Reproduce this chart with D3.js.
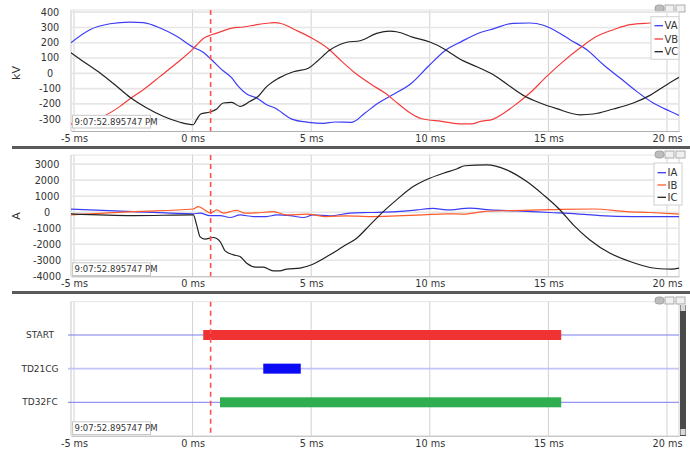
<!DOCTYPE html>
<html><head><meta charset="utf-8">
<script src="https://cdn.jsdelivr.net/npm/d3@7"></script>
<style>
body{margin:0;background:#fff}
svg{display:block}
text{font-family:"DejaVu Sans",Verdana,sans-serif;fill:#333}
</style>
</head><body>
<svg id="c" width="690" height="450"></svg>
<script>
// ---------- data ----------
const xTicks = [-5, 0, 5, 10, 15, 20];
const kvTicks = [-300, -200, -100, 0, 100, 200, 300, 400];
const ampTicks = [-4000, -3000, -2000, -1000, 0, 1000, 2000, 3000];
const timestamp = "9:07:52.895747 PM";
const markerTime = 0.76;

const VA = [[-5.13,200],[-4.33,285],[-3.48,324],[-2.64,335],[-2.08,331],[-1.37,296],[-0.67,242],[0.03,170],[0.38,144],[0.8,89],[1.23,24],[1.65,-30],[1.9,-80],[2.28,-135],[2.7,-161],[3.12,-205],[3.47,-227],[4.18,-299],[4.88,-320],[5.51,-327],[6.0,-318],[6.71,-320],[7.27,-259],[7.83,-194],[8.39,-144],[9.24,-63],[9.94,46],[10.64,148],[11.35,209],[12.1,265],[12.68,291],[13.52,327],[14.22,329],[14.79,314],[15.35,274],[15.91,220],[16.62,154],[17.32,56],[18.02,-31],[18.72,-118],[19.42,-194],[20.13,-248],[20.51,-275]];
const VB = [[-5.13,-330],[-4.5,-318],[-3.76,-281],[-3.06,-216],[-2.64,-166],[-2.08,-107],[-1.37,-20],[-0.67,67],[0.03,161],[0.24,196],[0.45,228],[0.8,252],[1.23,274],[1.65,296],[2.14,303],[2.7,318],[3.26,329],[3.47,331],[3.76,324],[4.32,285],[5.02,231],[5.72,161],[6.29,78],[6.85,2],[7.55,-74],[8.11,-129],[8.67,-199],[9.24,-266],[9.66,-297],[10.5,-314],[11.35,-331],[11.77,-331],[12.1,-316],[12.68,-299],[13.52,-216],[14.22,-129],[14.93,-20],[15.63,78],[16.33,165],[17.04,242],[17.74,285],[18.44,318],[19.28,329],[20.51,338]];
const VC = [[-5.13,135],[-4.61,78],[-3.9,2],[-3.2,-85],[-2.64,-157],[-1.93,-227],[-1.24,-281],[-0.53,-320],[0.03,-336],[0.17,-303],[0.34,-266],[0.73,-253],[1.02,-233],[1.29,-194],[1.65,-190],[2.0,-216],[2.42,-183],[2.77,-150],[3.12,-87],[3.61,-33],[4.25,10],[4.88,33],[5.23,76],[5.79,152],[6.5,203],[7.06,213],[7.76,261],[8.32,276],[8.6,272],[9.3,235],[10.0,205],[10.57,163],[10.9,130],[11.3,90],[11.7,62],[12.1,35],[12.68,-9],[13.38,-85],[14.01,-150],[14.65,-194],[15.35,-231],[16.33,-271],[16.89,-266],[17.74,-233],[18.58,-194],[19.28,-144],[19.99,-74],[20.51,-26]];

const IA = [[-5.13,190],[-2.5,40],[0.03,-100],[0.31,-60],[0.73,-210],[1.16,-210],[1.58,-330],[2.0,-170],[2.56,-270],[3.12,-270],[3.54,-170],[4.11,-210],[4.67,-330],[5.09,-170],[5.79,-230],[6.64,-60],[7.48,-20],[8.6,40],[9.44,140],[10.14,240],[10.71,140],[11.69,250],[12.53,140],[13.66,80],[15.07,-20],[16.19,-100],[17.17,-210],[18.58,-270],[20.51,-270]];
const IB = [[-5.13,-170],[-2.5,40],[0.03,200],[0.24,350],[0.45,200],[0.76,-60],[1.02,140],[1.3,-60],[1.72,90],[1.86,120],[2.21,-60],[2.7,-40],[3.4,40],[3.97,-170],[4.81,-120],[5.65,-270],[6.49,-230],[7.48,-270],[8.6,-230],[9.72,-170],[10.71,-100],[11.41,-120],[12.25,40],[13.38,100],[14.65,140],[15.49,180],[16.89,200],[18.3,40],[19.28,-20],[20.51,-120]];
const IC = [[-5.13,-106],[-2.5,-210],[0.03,-170],[0.17,-790],[0.31,-1520],[0.52,-1680],[0.87,-1580],[1.16,-1830],[1.37,-2410],[1.72,-2660],[2.0,-2770],[2.28,-3180],[2.7,-3430],[2.98,-3430],[3.4,-3660],[3.68,-3660],[3.97,-3550],[4.53,-3490],[5.02,-3280],[5.79,-2660],[6.35,-2140],[6.92,-1620],[7.48,-790],[8.04,40],[8.6,770],[9.3,1600],[10.0,2120],[10.57,2430],[11.13,2700],[11.48,2900],[12.4,2950],[13.24,2640],[14.09,1910],[14.79,1080],[15.49,140],[16.05,-790],[16.75,-1730],[17.6,-2560],[18.44,-3080],[19.28,-3450],[19.7,-3530],[20.2,-3550],[20.51,-3490]];

const voltNames = ["VA", "VB", "VC"];
const voltColors = ["#3c3cf5", "#f53c3c", "#222222"];
const currNames = ["IA", "IB", "IC"];
const currColors = ["#3c3cf5", "#ff5a28", "#222222"];

const signals = ["START", "TD21CG", "TD32FC"];
const sigStart = [0.45, 2.98, 1.155];
const sigEnd = [15.54, 4.56, 15.54];
const sigColors = ["#f03232", "#0a0af5", "#2eae50"];
const sigLineColors = ["#7a7af0", "#c4c4f7", "#7a7af0"];

// ---------- layout ----------
const svg = d3.select("#c");
const L = 71, R = 679;
const x = d3.scaleLinear().domain([-5.126, 20.506]).range([L, R]);
const panels = [
  {top: 10, bottom: 131},
  {top: 155, bottom: 276.3},
  {top: 301.7, bottom: 435.7}
];
const y1 = d3.scaleLinear().domain([-377, 414]).range([panels[0].bottom, panels[0].top]);
const y2 = d3.scaleLinear().domain([-4000, 3570]).range([panels[1].bottom, panels[1].top]);
const y3 = d3.scalePoint().domain(signals).range([335, 402.3]);

// separators
[147.5, 292.5].forEach(yy => {
  svg.append("line").attr("x1", 12).attr("x2", 690).attr("y1", yy).attr("y2", yy)
    .attr("stroke", "#5a5a5a").attr("stroke-width", 3);
});

panels.forEach((p, i) => {
  const g = svg.append("g");
  svg.append("clipPath").attr("id", "clip" + i).append("rect")
    .attr("x", L).attr("y", p.top).attr("width", R - L).attr("height", p.bottom - p.top);
  g.append("line").attr("x1", L).attr("x2", R).attr("y1", p.top).attr("y2", p.top)
    .attr("stroke", "#e4e4e4");
  g.selectAll(".vg").data(xTicks).join("line")
    .attr("x1", d => x(d)).attr("x2", d => x(d)).attr("y1", p.top).attr("y2", p.bottom)
    .attr("stroke", "#d2d2d2").attr("stroke-width", 1);
  g.append("line").attr("x1", R).attr("x2", R).attr("y1", p.top).attr("y2", p.bottom)
    .attr("stroke", "#d2d2d2");
  g.append("line").attr("x1", L).attr("x2", L).attr("y1", p.top).attr("y2", p.bottom)
    .attr("stroke", "#c8c8c8");
  const ax = g.append("g").attr("transform", `translate(0,${p.bottom})`)
    .call(d3.axisBottom(x).tickValues(xTicks).tickSize(0).tickPadding(4).tickFormat(d => d + " ms"));
  ax.select(".domain").attr("stroke", "#b0b0b0");
  ax.selectAll("text").attr("font-size", 9.7).attr("fill", "#333")
    .attr("font-family", '"DejaVu Sans",Verdana,sans-serif');
  const iy = [5, 151, 297][i];
  [655, 665, 676].forEach((ix, k) => {
    g.append("rect").attr("x", ix).attr("y", iy).attr("width", 9).attr("height", 7)
      .attr("fill", k === 0 ? "#bdbdbd" : "#f0f0f0").attr("stroke", "#9a9a9a").attr("stroke-width", 0.8)
      .attr("rx", k === 0 ? 3 : 0);
  });
});

function yGrid(scale, ticks, p, labelX) {
  const g = svg.append("g");
  g.selectAll("line").data(ticks.filter(t => scale(t) < p.bottom - 1)).join("line")
    .attr("x1", L).attr("x2", R).attr("y1", d => scale(d)).attr("y2", d => scale(d))
    .attr("stroke", "#e6e6e6").attr("stroke-width", 1.6);
  g.selectAll("text").data(ticks).join("text")
    .attr("x", labelX).attr("y", d => scale(d)).attr("dy", "0.35em")
    .attr("text-anchor", "middle").attr("font-size", 9.7).text(d => d);
}
yGrid(y1, kvTicks, panels[0], 50);
yGrid(y2, ampTicks, panels[1], 47);

svg.append("text").attr("transform", "translate(20,73) rotate(-90)").attr("text-anchor", "middle")
  .attr("font-size", 11).text("kV");
svg.append("text").attr("transform", "translate(20,216) rotate(-90)").attr("text-anchor", "middle")
  .attr("font-size", 11).text("A");

function drawSeries(seriesList, colors, yScale, clipId) {
  const line = d3.line().x(d => x(d[0])).y(d => yScale(d[1])).curve(d3.curveMonotoneX);
  const g = svg.append("g").attr("clip-path", `url(#${clipId})`);
  seriesList.forEach((s, i) => {
    g.append("path").attr("d", line(s)).attr("fill", "none")
      .attr("stroke", colors[i]).attr("stroke-width", 1.2);
  });
}
drawSeries([VA, VB, VC], voltColors, y1, "clip0");
drawSeries([IA, IB, IC], currColors, y2, "clip1");

const g3 = svg.append("g");
signals.forEach((s, i) => {
  g3.append("line").attr("x1", 68).attr("x2", R).attr("y1", y3(s)).attr("y2", y3(s))
    .attr("stroke", sigLineColors[i]).attr("stroke-width", i === 1 ? 1.8 : 1);
  g3.append("text").attr("x", 40).attr("y", y3(s)).attr("dy", "0.35em")
    .attr("text-anchor", "middle").attr("font-size", 9)
    .attr("font-family", '"Open Sans",sans-serif').text(s);
  g3.append("rect").attr("x", x(sigStart[i])).attr("y", y3(s) - 5)
    .attr("width", x(sigEnd[i]) - x(sigStart[i])).attr("height", 10)
    .attr("fill", sigColors[i]);
});

svg.append("rect").attr("x", 680).attr("y", 305).attr("width", 6).attr("height", 131).attr("fill", "#4a4a4a");
svg.append("rect").attr("x", 680.5).attr("y", 305).attr("width", 5).attr("height", 6).attr("fill", "#d8d8d8");
svg.append("rect").attr("x", 680.5).attr("y", 429).attr("width", 5).attr("height", 6).attr("fill", "#d8d8d8");

panels.forEach(p => {
  svg.append("line").attr("x1", x(markerTime)).attr("x2", x(markerTime))
    .attr("y1", p.top).attr("y2", p.bottom)
    .attr("stroke", "#ff5050").attr("stroke-width", 1.6).attr("stroke-dasharray", "5,4");
});

[128, 275.5, 434.5].forEach(yb => {
  svg.append("rect").attr("x", 72.5).attr("y", yb - 12.7).attr("width", 78).attr("height", 12.7)
    .attr("fill", "#fff").attr("stroke", "#c8c8c8");
  svg.append("text").attr("x", 74.5).attr("y", yb - 6.3).attr("dy", "0.35em")
    .attr("font-size", 8.5).attr("font-family", '"Open Sans",sans-serif').text(timestamp);
});

function legend(names, colors, bx, by, h, rowY) {
  const g = svg.append("g");
  g.append("rect").attr("x", bx).attr("y", by).attr("width", 28).attr("height", h)
    .attr("fill", "#fff").attr("stroke", "#d0d0d0");
  names.forEach((n, i) => {
    g.append("line").attr("x1", bx + 3.5).attr("x2", bx + 12).attr("y1", rowY[i]).attr("y2", rowY[i])
      .attr("stroke", colors[i]).attr("stroke-width", 1.3);
    g.append("text").attr("x", bx + 13.5).attr("y", rowY[i]).attr("dy", "0.35em")
      .attr("font-size", 10).text(n);
  });
}
legend(voltNames, voltColors, 651, 16.7, 42.6, [25.7, 39, 51.7]);
legend(currNames, currColors, 654, 163, 42, [172.7, 185, 197.3]);
</script>
</body></html>
